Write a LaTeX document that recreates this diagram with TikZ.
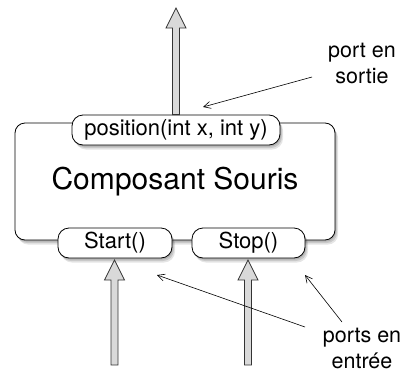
\documentclass[tikz,border=0pt]{standalone}
\usepackage{fontspec}
\setmainfont{TeX Gyre Heros}
\usetikzlibrary{shadows,calc,arrows.meta}
\definecolor{arrowfill}{HTML}{D9D9D9}
\definecolor{arrowline}{HTML}{333333}
\tikzset{
  softshadow/.style={
    drop shadow={shadow xshift=1pt,shadow yshift=-1.5pt,opacity=0.12,fill=black},
    drop shadow={shadow xshift=2pt,shadow yshift=-3pt,opacity=0.12,fill=black},
    drop shadow={shadow xshift=3pt,shadow yshift=-4.5pt,opacity=0.10,fill=black}},
  mainbox/.style={draw=black,line width=0.8pt,fill=white,rounded corners=10pt,
    minimum width=320pt,minimum height=117pt,inner sep=0pt,softshadow},
  portbox/.style={draw=black,line width=0.8pt,fill=white,rounded corners=11pt,
    minimum height=30pt,inner sep=0pt,softshadow,
    font=\fontsize{22}{26}\selectfont},
  lbl/.style={align=center,inner sep=0pt,font=\fontsize{21.5}{26}\selectfont},
  fat/.style={draw=arrowline,fill=arrowfill,line width=0.8pt,line join=miter},
  note/.style={draw=black,line width=0.6pt,-{Straight Barb[length=7pt,width=7pt]}}
}
\newcommand{\fatarrow}[2]{%
  \draw[fat] let \p1=(#1), \p2=(#2) in
    (\x2-3.5pt,\y1) -- (\x2-3.5pt,\y2-20pt) -- (\x2-10pt,\y2-20pt) -- (\x2,\y2)
    -- (\x2+10pt,\y2-20pt) -- (\x2+3.5pt,\y2-20pt) -- (\x2+3.5pt,\y1) -- cycle;}
\begin{document}
\begin{tikzpicture}[x=1pt,y=-1pt]
\useasboundingbox (0,0) rectangle (403,372);
% main component
\node[mainbox] (main) at (175,181.5) {};
\node[inner sep=0pt,font=\fontsize{30}{34}\selectfont] (title) at (main.center) {Composant Souris};
% ports
\node[portbox,minimum width=208pt] (pos) at (176,130) {position(int x, int y)};
\node[portbox,minimum width=114pt] (start) at (115,243) {Start()};
\node[portbox,minimum width=113pt] (stop) at (248.5,243) {Stop()};
% hollow arrows
\coordinate (outTip) at (176,8);
\coordinate (inA) at (114.5,365);
\coordinate (inB) at (248,365);
\coordinate (startIn) at (114.5,260);
\coordinate (stopIn) at (248,260);
\fatarrow{pos.north}{outTip}
\fatarrow{inA}{startIn}
\fatarrow{inB}{stopIn}
% labels
\node[lbl] (outLbl) at (362,63) {port en\\sortie};
\node[lbl] (inLbl) at (362,348.5) {ports en\\entrée};
% annotation arrows
\coordinate (n1s) at (312,77);
\coordinate (n1e) at (203,107);
\coordinate (n2s) at (305,327);
\coordinate (n2e) at (157,275);
\coordinate (n3s) at (342,322);
\coordinate (n3e) at (305,275);
\draw[note] (n1s) -- (n1e);
\draw[note] (n2s) -- (n2e);
\draw[note] (n3s) -- (n3e);
\end{tikzpicture}
\end{document}
